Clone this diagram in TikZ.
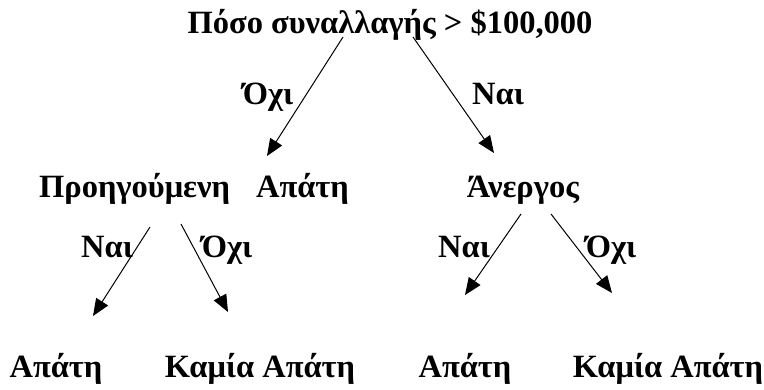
\documentclass[tikz,border=0pt]{standalone}
\usepackage{fontspec}
\setmainfont{Liberation Serif}
\usetikzlibrary{arrows.meta}
\begin{document}
\begin{tikzpicture}[x=1pt,y=-1pt,
  txt/.style={font=\bfseries\fontsize{32.5}{38}\selectfont, anchor=base, inner sep=0pt},
  arr/.style={line width=1pt, -{Triangle[length=17pt,width=14pt]}}]
\useasboundingbox (0,0) rectangle (764,389);
% nodes
\node[txt] (root) at (390,33) {Πόσο συναλλαγής > \$100,000};
\node[txt] (prev) at (194,197) {Προηγούμενη\hspace{0.8em}Απάτη};
\node[txt] (unemp) at (523,197) {Άνεργος};
\node[txt] (l1) at (56,377) {Απάτη};
\node[txt] (l2) at (260,377) {Καμία Απάτη};
\node[txt] (l3) at (465,377) {Απάτη};
\node[txt] (l4) at (668,377) {Καμία Απάτη};
% labels
\node[txt] (no1) at (268,104) {Όχι};
\node[txt] (yes1) at (498,104) {Ναι};
\node[txt] (yes2) at (107,257) {Ναι};
\node[txt] (no2) at (227,257) {Όχι};
\node[txt] (yes3) at (464,257) {Ναι};
\node[txt] (no3) at (611,257) {Όχι};
% arrow end points
\coordinate (rs1) at (343,37);
\coordinate (re1) at (267,156);
\coordinate (rs2) at (413,37);
\coordinate (re2) at (494,153);
\coordinate (ps1) at (150,227);
\coordinate (pe1) at (93,316);
\coordinate (ps2) at (181,224);
\coordinate (pe2) at (228,312);
\coordinate (us1) at (521,214);
\coordinate (ue1) at (465,295);
\coordinate (us2) at (551,214);
\coordinate (ue2) at (612,293);
\draw[arr] (rs1) -- (re1);
\draw[arr] (rs2) -- (re2);
\draw[arr] (ps1) -- (pe1);
\draw[arr] (ps2) -- (pe2);
\draw[arr] (us1) -- (ue1);
\draw[arr] (us2) -- (ue2);
\end{tikzpicture}
\end{document}
